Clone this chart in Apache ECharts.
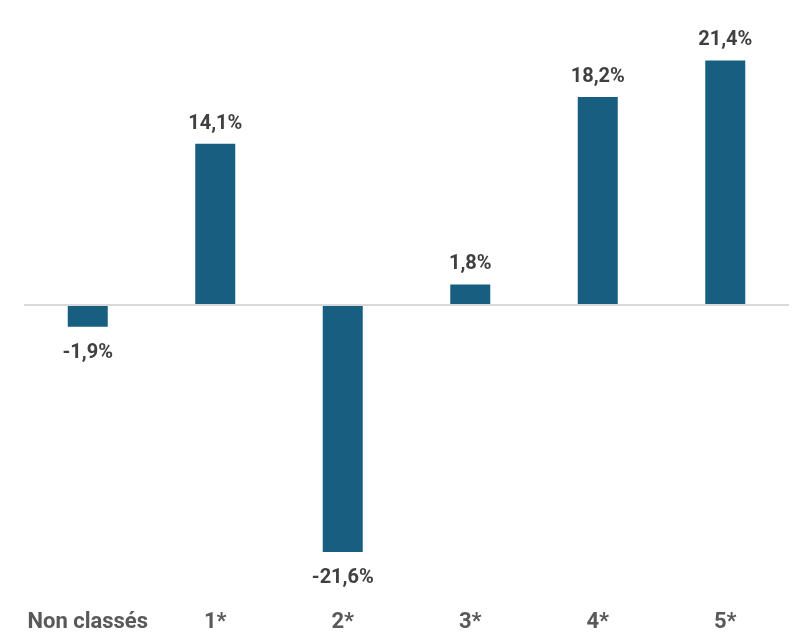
<!DOCTYPE html>
<html>
<head>
<meta charset="utf-8">
<script src="https://cdn.jsdelivr.net/npm/echarts@6/dist/echarts.min.js"></script>
<style>
html,body{margin:0;padding:0;background:#fff;}
#chart{width:810px;height:641px;}
</style>
</head>
<body>
<div id="chart"></div>
<script>
const categories = ['Non classés', '1*', '2*', '3*', '4*', '5*'];
const values = [-1.9, 14.1, -21.6, 1.8, 18.2, 21.4];

const chart = echarts.init(document.getElementById('chart'));
const seriesData = values.map(v => ({
  value: v,
  label: v >= 0 ? { position: 'top', distance: 10 } : { position: 'bottom', distance: 16 }
}));

chart.setOption({
  animation: false,
  backgroundColor: '#ffffff',
  grid: { left: 24, right: 21, top: 19.25, bottom: 50.25, containLabel: false },
  xAxis: {
    type: 'category',
    data: categories,
    axisLine: { show: false, onZero: false },
    axisTick: { show: false },
    axisLabel: {
      margin: 21,
      color: '#595959',
      fontFamily: 'Roboto',
      fontWeight: 'bold',
      fontSize: 22,
      interval: 0
    }
  },
  yAxis: {
    type: 'value',
    min: -25,
    max: 25,
    axisLine: { show: false },
    axisTick: { show: false },
    axisLabel: { show: false },
    splitLine: { show: false }
  },
  series: [{
    type: 'bar',
    data: seriesData,
    barWidth: 40,
    itemStyle: { color: '#175e80' },
    label: {
      show: true,
      color: '#404040',
      fontFamily: 'Roboto',
      fontWeight: 'bold',
      fontSize: 20,
      formatter: p => p.value.toFixed(1).replace('.', ',') + '%'
    },
    markLine: {
      silent: true,
      symbol: ['none', 'none'],
      label: { show: false },
      lineStyle: { color: '#d9d9d9', width: 2, type: 'solid' },
      data: [{ yAxis: 0 }]
    }
  }]
});
</script>
</body>
</html>
